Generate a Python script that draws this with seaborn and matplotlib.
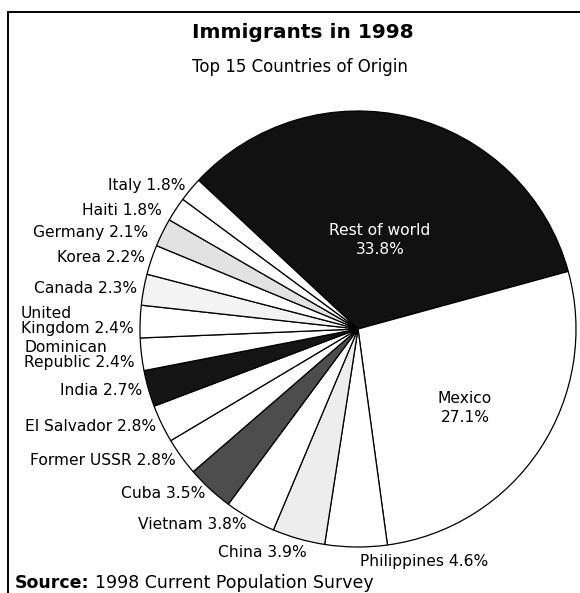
import numpy as np
import matplotlib
matplotlib.use("Agg")
import matplotlib.pyplot as plt
from matplotlib.lines import Line2D
import seaborn as sns

# ---------------- data ----------------
countries = ["Rest of world", "Mexico", "Philippines", "China", "Vietnam", "Cuba",
             "Former USSR", "El Salvador", "India", "Dominican\nRepublic",
             "United\nKingdom", "Canada", "Korea", "Germany", "Haiti", "Italy"]
shares = [33.8, 27.1, 4.6, 3.9, 3.8, 3.5, 2.8, 2.8, 2.7, 2.4, 2.4, 2.3, 2.2, 2.1, 1.8, 1.8]
title = "Immigrants in 1998"
subtitle = "Top 15 Countries of Origin"
source_label = "Source:"
source_text = "1998 Current Population Survey"

# ---------------- style ----------------
sns.set_theme(style="white")
plt.rcParams['font.family'] = ['DejaVu Sans']
plt.rcParams['text.color'] = 'black'

shade = {"Rest of world": "#111111", "India": "#151515", "Cuba": "#4d4d4d",
         "China": "#ededed", "Germany": "#e2e2e2", "Canada": "#f3f3f3"}
colors = [shade.get(c, "white") for c in countries]
inside = {"Rest of world": (0.42, "white"), "Mexico": (0.61, "black")}
nudge_px = {"Haiti": (-8, 5), "Germany": (-8, 3), "China": (10, 0),
            "Philippines": (4, 0), "Mexico": (-4, 6)}

W, H = 580, 593
cx, cy, R = 358, 329, 218
LABEL_FS = 11.2

fig = plt.figure(figsize=(W / 100, H / 100), dpi=100)
fig.patch.set_facecolor("white")
ax = fig.add_axes([(cx - R) / W, 1 - (cy + R) / H, 2 * R / W, 2 * R / H])

wedges, _ = ax.pie(shares, colors=colors, startangle=137, counterclock=False,
                   wedgeprops=dict(edgecolor="black", linewidth=0.9))
for w in wedges:
    w.set_clip_on(False)
ax.set_xlim(-1, 1)
ax.set_ylim(-1, 1)
ax.set_aspect("equal")
ax.axis("off")

for w, name, s in zip(wedges, countries, shares):
    mid = np.deg2rad((w.theta1 + w.theta2) / 2)
    x, y = np.cos(mid), np.sin(mid)
    dx, dy = nudge_px.get(name, (0, 0))
    if name in inside:
        r, col = inside[name]
        ax.text(r * x + dx / R, r * y - dy / R, f"{name}\n{s:.1f}%", ha="center",
                va="center", color=col, fontsize=LABEL_FS, linespacing=1.35)
        continue
    r = 1.03
    ha = "right" if x < -0.1 else "left"
    va = "top" if y < -0.93 else "center"
    ax.text(r * x + dx / R, r * y - dy / R, f"{name} {s:.1f}%", ha=ha, va=va,
            fontsize=LABEL_FS, linespacing=1.0, multialignment="left", clip_on=False)

fig.text(303 / W, 1 - 33 / H, title, ha="center", va="center",
         fontsize=14.5, fontweight="bold")
fig.text(300 / W, 1 - 67 / H, subtitle, ha="center", va="center", fontsize=12)

t1 = fig.text(15 / W, 1 - 583 / H, source_label, ha="left", va="center",
              fontsize=12.5, fontweight="bold")
fig.canvas.draw()
bb = t1.get_window_extent()
fig.text((bb.x1 + 5) / W, 1 - 583 / H, source_text, ha="left", va="center", fontsize=12.5)

fig.add_artist(Line2D([8 / W, 8 / W], [0, 1 - 12 / H], color="black", lw=1.4))
fig.add_artist(Line2D([8 / W, 1], [1 - 12 / H, 1 - 12 / H], color="black", lw=1.4))

fig.savefig("out.png", dpi=100, facecolor="white")
